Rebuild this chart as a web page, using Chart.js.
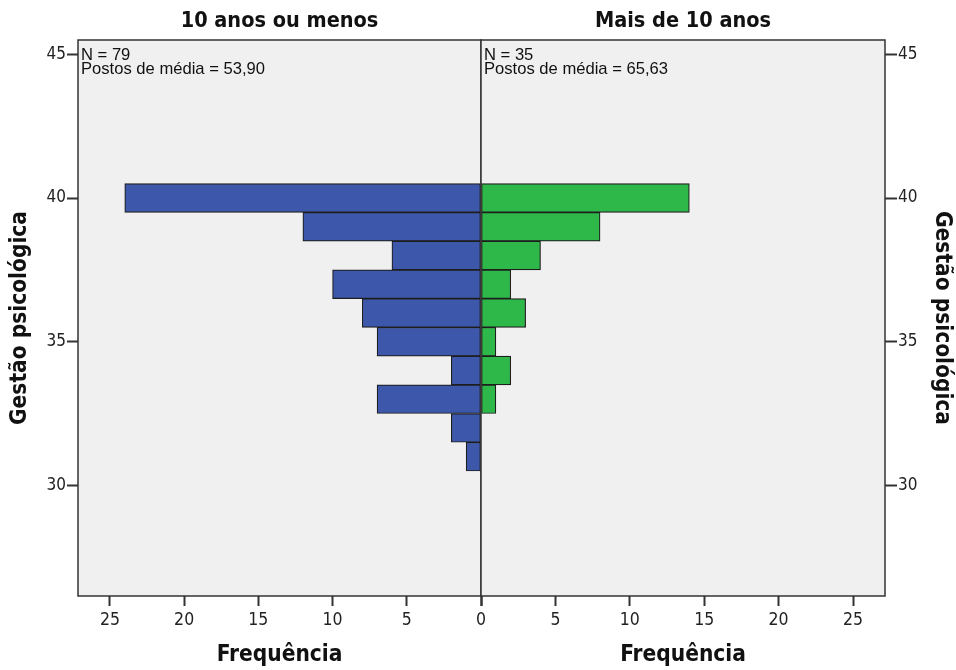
<!DOCTYPE html>
<html>
<head>
<meta charset="utf-8">
<script src="https://cdn.jsdelivr.net/npm/chart.js@4.4.1/dist/chart.umd.min.js"></script>
<style>
  body { margin: 0; background: #fff; }
  #wrap { position: relative; width: 956px; height: 670px; }
  #wrap canvas { position: absolute; left: 0; top: 0; }
</style>
</head>
<body>
<div id="wrap">
  <canvas id="left" width="956" height="670"></canvas>
  <canvas id="right" width="956" height="670"></canvas>
</div>
<script>
// binned values of "Gestão psicológica" (bar centres)
const bins = [40, 39, 38, 37, 36, 35, 34, 33, 32, 31];
const freqUpTo10 = [24, 12, 6, 10, 8, 7, 2, 7, 2, 1];
const freqOver10 = [14, 8, 4, 2, 3, 1, 2, 1, 0, 0];

const groupTitles = ["10 anos ou menos", "Mais de 10 anos"];
const groupNotes = [
  ["N = 79", "Postos de média = 53,90"],
  ["N = 35", "Postos de média = 65,63"],
];
const yAxisTitle = "Gestão psicológica";
const xAxisTitle = "Frequência";

const condensed = "'DejaVu Sans Condensed', 'DejaVu Sans', sans-serif";

// panel background + frame + the N / mean-rank note
const panelBox = {
  id: "panelBox",
  beforeDatasetsDraw(chart) {
    const { ctx, chartArea: a } = chart;
    ctx.save();
    ctx.fillStyle = "#f0f0f0";
    ctx.fillRect(a.left, a.top, a.right - a.left, a.bottom - a.top);
    ctx.restore();
  },
  afterDatasetsDraw(chart, args, opts) {
    const { ctx, chartArea: a } = chart;
    ctx.save();
    ctx.strokeStyle = "#333";
    ctx.lineWidth = 1.5;
    ctx.strokeRect(a.left, a.top, a.right - a.left, a.bottom - a.top);
    ctx.fillStyle = "#111";
    ctx.font = "16.6px 'Liberation Sans', Arial, sans-serif";
    ctx.textBaseline = "alphabetic";
    ctx.textAlign = "left";
    (opts.lines || []).forEach((t, i) => {
      ctx.fillText(t, a.left + 3, a.top + 19.5 + i * 14.5);
    });
    ctx.restore();
  },
};

function makePanel(id, values, color, side) {
  const isLeft = side === "left";
  return new Chart(document.getElementById(id), {
    type: "bar",
    data: {
      datasets: [
        {
          data: bins.map((b, i) => ({ x: values[i], y: b })),
          backgroundColor: color,
          borderColor: "#1e1e1e",
          borderWidth: 1.2,
          borderSkipped: false,
          barPercentage: 1,
          categoryPercentage: 1,
        },
      ],
    },
    options: {
      indexAxis: "y",
      responsive: false,
      animation: false,
      layout: {
        padding: isLeft ? { left: 0, right: 475, top: 0, bottom: 0 } : { left: 481, right: 0, top: 0, bottom: 0 },
      },
      plugins: {
        legend: { display: false },
        tooltip: { enabled: false },
        title: {
          display: true,
          text: groupTitles[isLeft ? 0 : 1],
          fullSize: false,
          color: "#111",
          font: { family: condensed, size: 21.5, weight: "bold" },
          padding: { top: 8.5, bottom: 5.7 },
        },
        panelBox: { lines: groupNotes[isLeft ? 0 : 1] },
      },
      scales: {
        x: {
          type: "linear",
          reverse: isLeft,
          min: 0,
          max: 27.15,
          afterFit: (s) => { s.height = 74; },
          grid: { display: true, drawOnChartArea: false, drawTicks: true, tickLength: 10, tickWidth: 2, tickColor: "#333" },
          border: { display: false },
          ticks: {
            stepSize: 5,
            includeBounds: false,
            padding: 4,
            color: "#222",
            font: { family: condensed, size: 17.5 },
            callback: (v) => (!isLeft && v === 0 ? "" : v),
          },
          title: {
            display: true,
            text: xAxisTitle,
            color: "#111",
            font: { family: condensed, size: 22.5, weight: "bold" },
            padding: { top: 0, bottom: 1.5 },
          },
        },
        y: {
          type: "linear",
          position: side,
          min: 26.15,
          max: 45.5,
          offset: false,
          afterFit: (s) => { s.width = isLeft ? 78 : 71; },
          grid: { display: true, offset: false, drawOnChartArea: false, drawTicks: true, tickLength: isLeft ? 11 : 12, tickWidth: 2, tickColor: "#333" },
          border: { display: false },
          ticks: {
            stepSize: 5,
            includeBounds: false,
            padding: 1,
            color: "#222",
            font: { family: condensed, size: 17 },
          },
          title: {
            display: true,
            text: yAxisTitle,
            color: "#111",
            font: { family: condensed, size: 22.5, weight: "bold" },
            padding: { top: isLeft ? 7 : 0.5, bottom: 0 },
          },
        },
      },
    },
    plugins: [panelBox],
  });
}

makePanel("left", freqUpTo10, "#3d58ab", "left");
makePanel("right", freqOver10, "#2fb84a", "right");
</script>
</body>
</html>
